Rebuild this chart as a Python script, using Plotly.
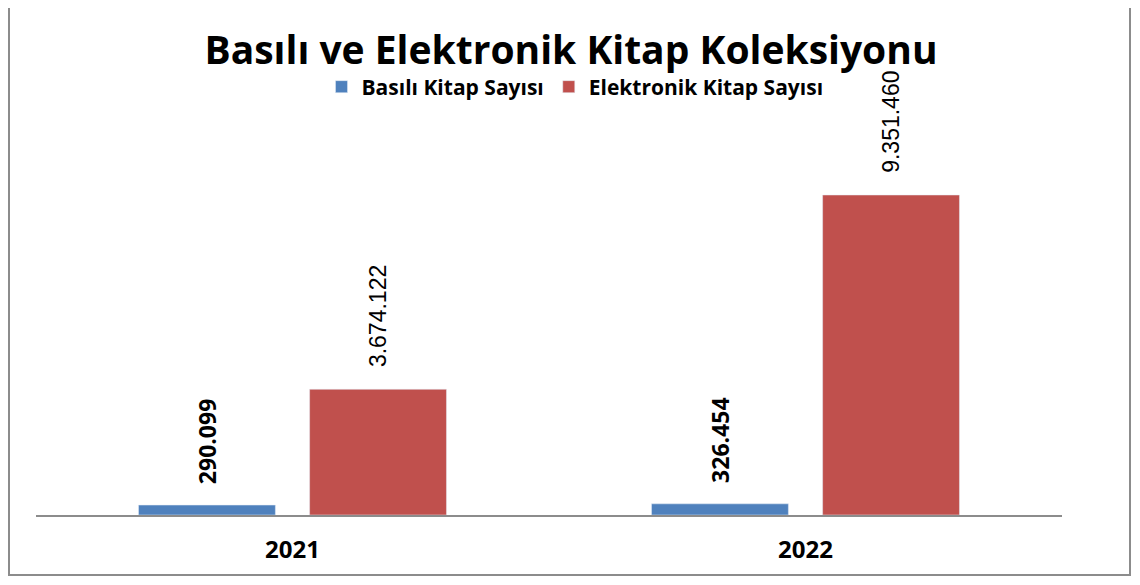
import plotly.graph_objects as go

years = ['2021', '2022']
basili = [290099, 326454]
elektronik = [3674122, 9351460]

series_names = ['Basılı Kitap Sayısı', 'Elektronik Kitap Sayısı']
title_text = 'Basılı ve Elektronik Kitap Koleksiyonu'

W, H = 1124, 569          # page has an 8px body margin, keep it from overflowing
L, R, T, B = 28, 70, 122, 62
pw, ph = W - L - R, H - T - B

pad = '\u00a0\u00a0\u00a0'

fig = go.Figure()

fig.add_trace(go.Bar(
    x=years, y=basili, name=series_names[0],
    marker=dict(color='#4F81BD'),
    texttemplate=pad + '%{y:,.0f}', textposition='outside', textangle=-90,
    textfont=dict(family='Open Sans', size=23, color='black', weight='bold'),
    cliponaxis=False
))

fig.add_trace(go.Bar(
    x=years, y=elektronik, name=series_names[1],
    marker=dict(color='#C0504D'),
    texttemplate=pad + '%{y:,.0f}', textposition='outside', textangle=-90,
    textfont=dict(family='Liberation Sans', size=23, color='black'),
    cliponaxis=False
))

fig.update_layout(
    width=W, height=H,
    margin=dict(l=L, r=R, t=T, b=B),
    paper_bgcolor='white', plot_bgcolor='white',
    separators=',.',
    barmode='group', bargap=0.333, bargroupgap=0.2,
    title=dict(text='<b>' + title_text + '</b>', x=563 / W, xanchor='center',
               y=1 - 42 / H, yanchor='middle',
               font=dict(family='Open Sans', size=39, color='black')),
    legend=dict(orientation='h', xref='container', yref='container',
                x=567 / W, xanchor='center', y=1 - 79 / H, yanchor='middle',
                font=dict(family='Open Sans', size=21, color='black', weight='bold'),
                itemwidth=30, tracegroupgap=0),
    showlegend=True,
)

fig.update_xaxes(showline=True, linecolor='#8c8c8c', linewidth=2,
                 showgrid=False, ticks='', ticklabelstandoff=12,
                 tickfont=dict(family='Open Sans', size=24, color='black', weight='bold'))
fig.update_yaxes(visible=False, range=[0, 9351460 * ph / 320], showgrid=False)

# outer chart border
fig.add_shape(type='rect', xref='paper', yref='paper',
              x0=(1 - L) / pw, x1=(W - 2 - L) / pw,
              y0=(T + ph - (H - 2)) / ph, y1=(ph + T + 10) / ph,
              line=dict(color='#8c8c8c', width=2), fillcolor='rgba(0,0,0,0)',
              layer='below')

fig.write_html('out.html')
